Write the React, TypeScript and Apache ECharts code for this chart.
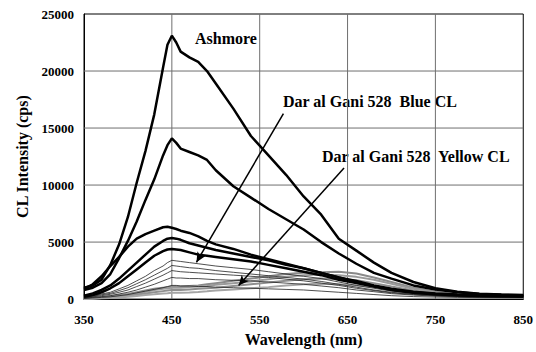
import React, { useEffect, useRef } from "react";
import * as echarts from "echarts";

const wavelengths = [350, 360, 370, 380, 390, 400, 410, 420, 430, 440, 445, 450, 455, 460, 470, 480, 490, 500, 520, 540, 560, 580, 600, 620, 640, 660, 680, 700, 725, 750, 775, 800, 825, 850];

const ashmore = [1000, 1200, 1700, 3000, 4800, 7200, 10200, 13000, 16200, 20300, 22300, 23100, 22500, 21700, 21200, 20800, 20000, 18900, 16700, 14300, 12600, 10900, 9000, 7400, 5300, 4250, 3200, 2300, 1500, 950, 650, 480, 400, 350];
const thick2 = [800, 1000, 1400, 2200, 3600, 5100, 6800, 8700, 10500, 12600, 13500, 14100, 13700, 13200, 12900, 12600, 12200, 11300, 9900, 8900, 7900, 7000, 6100, 5000, 4000, 3100, 2300, 1800, 1200, 850, 600, 450, 380, 330];
const thick3 = [900, 1300, 2000, 2900, 3700, 4600, 5300, 5700, 6000, 6300, 6350, 6250, 6150, 6000, 5800, 5500, 5100, 4800, 4400, 3900, 3500, 3100, 2700, 2300, 1900, 1600, 1200, 900, 650, 500, 400, 350, 300, 280];
const thick4 = [300, 500, 800, 1200, 1800, 2500, 3200, 3900, 4600, 5100, 5300, 5350, 5300, 5200, 4900, 4700, 4500, 4300, 4000, 3700, 3400, 3000, 2700, 2300, 1900, 1500, 1150, 850, 600, 450, 350, 300, 280, 250];
const thick5 = [200, 350, 600, 950, 1400, 2000, 2600, 3200, 3800, 4200, 4350, 4400, 4350, 4300, 4100, 3900, 3800, 3700, 3500, 3300, 3000, 2700, 2400, 2100, 1700, 1400, 1100, 800, 550, 420, 330, 280, 250, 230];

const blue1 = [200, 300, 450, 600, 900, 1200, 1600, 2000, 2500, 2900, 3200, 3400, 3350, 3300, 3200, 3100, 3000, 2900, 2750, 2600, 2400, 2200, 2000, 1800, 1500, 1200, 950, 700, 500, 350, 280, 230, 200, 180];
const blue2 = [150, 250, 380, 500, 750, 1000, 1350, 1700, 2100, 2500, 2700, 2950, 2900, 2850, 2750, 2700, 2600, 2500, 2350, 2200, 2050, 1900, 1750, 1550, 1300, 1050, 800, 600, 430, 320, 250, 210, 190, 170];
const blue3 = [100, 200, 300, 420, 600, 800, 1100, 1400, 1750, 2100, 2300, 2500, 2450, 2400, 2350, 2300, 2250, 2200, 2100, 2000, 1900, 1750, 1600, 1400, 1200, 950, 750, 550, 400, 300, 240, 200, 180, 160];
const blue4 = [80, 150, 220, 300, 450, 600, 800, 1050, 1300, 1600, 1750, 1900, 1850, 1850, 1800, 1800, 1750, 1700, 1650, 1600, 1500, 1400, 1300, 1150, 1000, 800, 650, 480, 350, 260, 210, 180, 160, 150];
const blue5 = [50, 100, 150, 200, 300, 400, 550, 700, 850, 1000, 1100, 1200, 1200, 1150, 1150, 1100, 1100, 1050, 1000, 950, 900, 850, 800, 700, 600, 500, 400, 300, 220, 180, 150, 130, 120, 110];

const yellow1 = [50, 100, 150, 250, 350, 450, 600, 750, 900, 1000, 1050, 1100, 1100, 1100, 1150, 1200, 1300, 1400, 1600, 1800, 2000, 2200, 2300, 2350, 2400, 2250, 1900, 1500, 1000, 650, 400, 250, 180, 150];
const yellow2 = [30, 80, 120, 200, 300, 400, 500, 650, 800, 900, 950, 1000, 1000, 1000, 1050, 1100, 1150, 1250, 1400, 1550, 1750, 1950, 2100, 2150, 2100, 1950, 1700, 1350, 900, 550, 320, 200, 140, 110];
const yellow3 = [20, 60, 100, 150, 220, 300, 400, 500, 600, 700, 750, 800, 800, 800, 850, 900, 950, 1000, 1150, 1300, 1450, 1600, 1750, 1800, 1750, 1650, 1400, 1100, 750, 450, 280, 180, 130, 100];
const yellow4 = [10, 40, 70, 100, 150, 200, 280, 350, 420, 500, 520, 550, 550, 550, 580, 620, 680, 750, 850, 950, 1050, 1200, 1300, 1350, 1300, 1200, 1050, 850, 600, 380, 240, 160, 120, 90];

const X_MIN = 350;
const X_MAX = 850;
const Y_MIN = 0;
const Y_MAX = 25000;
const xGridValues = [450, 550, 650, 750];
const yGridValues = [5000, 10000, 15000, 20000];

const blueArrow = [[577, 16270], [478, 3230]];
const yellowArrow = [[646, 11500], [526, 1200]];

const FONT = "Liberation Serif";

function pairs(vals: number[]) {
  return wavelengths.map((w, i) => [w, vals[i]]);
}

export default function App() {
  const ref = useRef<HTMLDivElement>(null);
  useEffect(() => {
    if (!ref.current) return;
    const chart = echarts.init(ref.current, null, { renderer: "svg" });
    const gridStyle = { color: "#6f6f6f", width: 1 };
    const gridSeries: any[] = [
      ...xGridValues.map((v) => ({
        name: "gx" + v, type: "line", data: [[v, Y_MIN], [v, Y_MAX]], symbol: "none", z: 1,
        silent: true, lineStyle: gridStyle,
      })),
      ...yGridValues.map((v) => ({
        name: "gy" + v, type: "line", data: [[X_MIN, v], [X_MAX, v]], symbol: "none", z: 1,
        silent: true, lineStyle: gridStyle,
      })),
    ];
    const gray = (name: string, vals: number[], color: string) => ({
      name, type: "line", data: pairs(vals), symbol: "none", z: 2,
      lineStyle: { color, width: 2 },
    });
    const thin = (name: string, vals: number[]) => ({
      name, type: "line", data: pairs(vals), symbol: "none", z: 3,
      lineStyle: { color: "#222", width: 0.8 },
    });
    const thick = (name: string, vals: number[]) => ({
      name, type: "line", data: pairs(vals), symbol: "none", z: 4,
      lineStyle: { color: "#000", width: 2.5 },
    });
    const series: any[] = [
      ...gridSeries,
      gray("Y1", yellow1, "#8a8a8a"),
      gray("Y2", yellow2, "#9a9a9a"),
      gray("Y3", yellow3, "#8f8f8f"),
      gray("Y4", yellow4, "#a5a5a5"),
      thin("B1", blue1),
      thin("B2", blue2),
      thin("B3", blue3),
      thin("B4", blue4),
      thin("B5", blue5),
      thick("T5", thick5),
      thick("T4", thick4),
      thick("T3", thick3),
      thick("T2", thick2),
      {
        ...thick("Ashmore", ashmore),
        markLine: {
          silent: true,
          symbol: ["none", "arrow"],
          symbolSize: [7, 10],
          label: { show: false },
          lineStyle: { color: "#000", width: 1.5, type: "solid" },
          data: [
            [{ coord: blueArrow[0] }, { coord: blueArrow[1] }],
            [{ coord: yellowArrow[0] }, { coord: yellowArrow[1] }],
          ],
        },
      },
    ];
    chart.setOption({
      animation: false,
      backgroundColor: "#fff",
      grid: { left: 84, right: 9, top: 14, bottom: 46, show: true, borderColor: "#000", borderWidth: 1 },
      xAxis: {
        type: "value", min: X_MIN, max: X_MAX, interval: 100,
        name: "Wavelength (nm)", nameLocation: "middle", nameGap: 30,
        nameTextStyle: { fontFamily: FONT, fontWeight: "bold", fontSize: 16, color: "#000" },
        axisLine: { show: true, lineStyle: { color: "#000", width: 1 } },
        axisTick: { show: false },
        axisLabel: { fontFamily: FONT, fontWeight: "bold", fontSize: 13, color: "#000", margin: 14, formatter: (v: number) => String(v) },
        splitLine: { show: false },
      },
      yAxis: {
        type: "value", min: Y_MIN, max: Y_MAX, interval: 5000,
        name: "CL Intensity (cps)", nameLocation: "middle", nameGap: 54, nameRotate: 90,
        nameTextStyle: { fontFamily: FONT, fontWeight: "bold", fontSize: 16, color: "#000" },
        axisLine: { show: true, lineStyle: { color: "#000", width: 1 } },
        axisTick: { show: false },
        axisLabel: { fontFamily: FONT, fontWeight: "bold", fontSize: 13, color: "#000", margin: 10, formatter: (v: number) => String(v) },
        splitLine: { show: false },
      },
      graphic: [
        { type: "text", left: 195, top: 30, style: { text: "Ashmore", fontFamily: FONT, fontWeight: "bold", fontSize: 16, fill: "#000" } },
        { type: "text", left: 283, top: 93, style: { text: "Dar al Gani 528  Blue CL", fontFamily: FONT, fontWeight: "bold", fontSize: 16, fill: "#000" } },
        { type: "text", left: 322, top: 148, style: { text: "Dar al Gani 528  Yellow CL", fontFamily: FONT, fontWeight: "bold", fontSize: 16, fill: "#000" } },
      ],
      series,
    });
    return () => chart.dispose();
  }, []);
  return <div ref={ref} style={{ position: "fixed", left: 0, top: 0, width: 536, height: 352 }} />;
}
